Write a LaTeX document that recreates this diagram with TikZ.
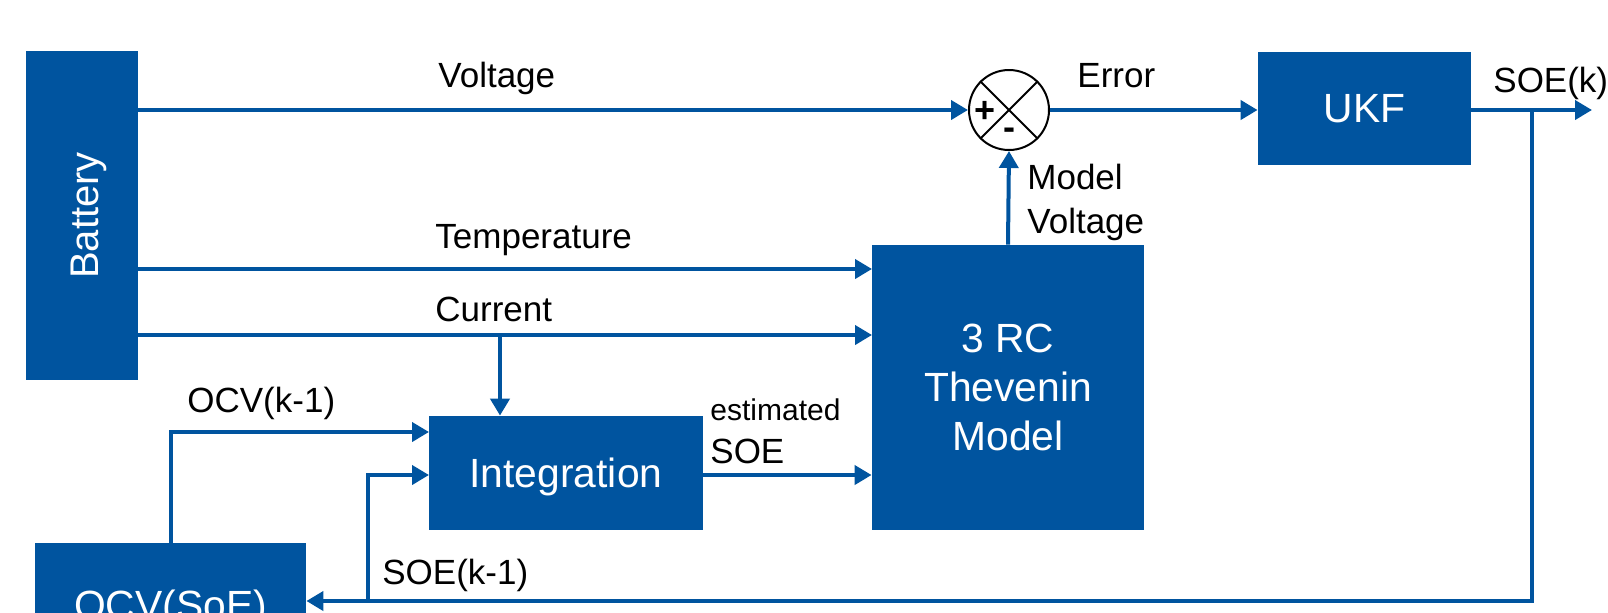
\documentclass[tikz,border=0pt]{standalone}
\usepackage{fontspec}
\setmainfont{Liberation Sans}
\usetikzlibrary{arrows.meta}
\definecolor{ukblue}{RGB}{0,84,159}
\tikzset{
boxtxt/.style={text=white, font=\fontsize{20.4}{24.5}\selectfont, align=center, inner sep=0pt},
blk/.style={fill=ukblue, boxtxt},
lbl/.style={anchor=base west, inner sep=0pt, font=\fontsize{17.5}{22}\selectfont, align=left},
sgn/.style={inner sep=0pt, font=\fontsize{18}{18}\selectfont\bfseries},
flow/.style={draw=ukblue, line width=2pt, -{Triangle[length=8.5pt,width=9.5pt]}}
}
\begin{document}
\begin{tikzpicture}[x=0.5pt,y=-0.5pt]
\useasboundingbox (0,0) rectangle (1608,612);
\clip (0,0) rectangle (1608,612);
\node[blk, minimum width=56pt, minimum height=164.5pt, label={[boxtxt, font=\fontsize{20}{24}\selectfont, text depth=0pt, xshift=1.5pt, rotate=90]center:Battery}] (bat) at (82,215.5) {};
\node[blk, minimum width=106.5pt, minimum height=56.5pt, text depth=-1.5pt] (ukf) at (1364.5,108.5) {UKF};
\node[blk, minimum width=136pt, minimum height=142.5pt] (thv) at (1008,387.5) {3 RC\\Thevenin\\Model};
\node[blk, minimum width=137pt, minimum height=57pt, text depth=0pt] (int) at (566,473) {Integration};
\node[blk, minimum width=135.5pt, minimum height=66pt] (ocv) at (170.5,609) {OCV(SoE)};
\node[draw, circle, line width=1pt, minimum size=40pt, inner sep=0pt] (sum) at (1009,110) {};
\draw[line width=1pt] (sum.north west) -- (sum.south east) (sum.north east) -- (sum.south west);
\node[sgn] (plus) at (985,112) {+};
\node[sgn] (minus) at (1009,134) {-};

\coordinate (temp) at (872,269);
\coordinate (cur) at (872,335);
\coordinate (curdn) at (500,335);
\coordinate (ina) at (429,432);
\coordinate (inb) at (429,475);
\coordinate (fbup) at (368,601);
\coordinate (fb) at (1532,110);
\coordinate (out) at (1592,110);

\draw[flow] (sum -| bat.east) -- (sum.west);
\draw[flow] (sum.east) -- (sum.east -| ukf.west);
\draw[flow] (ukf.east |- out) -- (out);
\draw[flow] (fb) |- (fbup -| ocv.east);
\draw[flow] (temp -| bat.east) -- (temp);
\draw[flow] (cur -| bat.east) -- (cur);
\draw[flow] (curdn) -- (curdn |- int.north);
\draw[flow] (int.east |- inb) -- (inb -| thv.west);
\draw[flow] (thv.north) -- (sum.south);
\draw[flow] (ocv.north) |- (ina);
\draw[flow] (fbup) |- (inb);

\node[lbl] (vlbl) at (438,87) {Voltage};
\node[lbl] (elbl) at (1077,87) {Error};
\node[lbl] (olbl) at (1493,92) {SOE(k)};
\node[lbl] (tlbl) at (435,248) {Temperature};
\node[lbl] (clbl) at (435,321) {Current};
\node[lbl] (klbl) at (187,412) {OCV(k-1)};
\node[lbl, font=\fontsize{15}{18}\selectfont] (slbl) at (710,420) {estimated};
\node[lbl] (s2lbl) at (710,463) {SOE};
\node[lbl, anchor=north west] (mlbl) at (1027,164) {Model\\Voltage};
\node[lbl] (plbl) at (382,584) {SOE(k-1)};
\end{tikzpicture}
\end{document}
